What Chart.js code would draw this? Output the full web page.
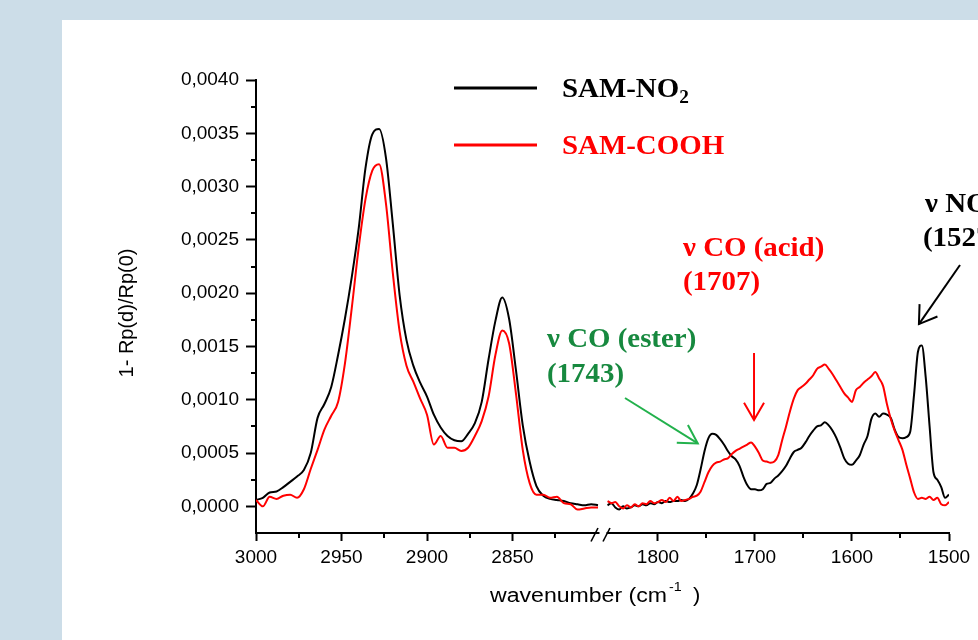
<!DOCTYPE html>
<html><head><meta charset="utf-8">
<script src="https://cdn.jsdelivr.net/npm/chart.js@4.4.0/dist/chart.umd.min.js"></script>
<style>
html,body{margin:0;padding:0;width:978px;height:640px;overflow:hidden;background:#ccdde8;}
#panel{position:absolute;left:62px;top:20px;right:0;bottom:0;background:#fff;}
#c{position:absolute;left:0;top:0;}
</style></head><body>
<div id="panel"></div>
<canvas id="c" width="978" height="640"></canvas>
<script>
// ---------- data ----------
const seriesNames = ['SAM-NO₂', 'SAM-COOH'];

// high-wavenumber segment (C-H stretching region)
const wavenumbersHigh = [3000,2996,2992,2988,2984,2980,2976,2972,2968,2964,2960,2956,2952,2948,2944,2940,2936,2932,2928,2924,2920,2916,2912,2908,2904,2900,2896,2892,2888,2884,2880,2876,2872,2868,2864,2860,2856,2852,2848,2844,2840,2836,2832,2828,2824,2820,2816,2812,2808,2804,2800];
const no2High = [0.00006,0.00008,0.00013,0.00014,0.00018,0.00023,0.00028,0.00034,0.00050,0.00083,0.00096,0.00112,0.00142,0.00176,0.00215,0.00260,0.00317,0.00349,0.00354,0.00327,0.00265,0.00198,0.00156,0.00132,0.00116,0.00103,0.00086,0.00074,0.00066,0.00062,0.00061,0.00068,0.00078,0.00098,0.00138,0.00174,0.00196,0.00176,0.00128,0.00076,0.00042,0.00019,0.00010,0.00007,0.00006,0.00005,0.00003,0.00002,0.00001,0.00002,0.00001];
const coohHigh = [0.00006,0.00000,0.00009,0.00007,0.00010,0.00011,0.00008,0.00016,0.00035,0.00053,0.00072,0.00085,0.00098,0.00134,0.00186,0.00242,0.00288,0.00315,0.00321,0.00284,0.00219,0.00164,0.00132,0.00117,0.00101,0.00086,0.00058,0.00066,0.00055,0.00055,0.00052,0.00055,0.00066,0.00080,0.00103,0.00142,0.00165,0.00153,0.00106,0.00053,0.00022,0.00011,0.00011,0.00008,0.00009,0.00003,0.00002,-0.00003,-0.00002,-0.00001,-0.00001];

// low-wavenumber segment (carbonyl / nitro region)
const wavenumbersLow = [1852,1848,1844,1840,1836,1832,1828,1824,1820,1816,1812,1808,1804,1800,1796,1792,1788,1784,1780,1776,1772,1768,1764,1760,1756,1752,1748,1744,1740,1736,1732,1728,1724,1720,1716,1712,1708,1704,1700,1696,1692,1688,1684,1680,1676,1672,1668,1664,1660,1656,1652,1648,1644,1640,1636,1632,1628,1624,1620,1616,1612,1608,1604,1600,1596,1592,1588,1584,1580,1576,1572,1568,1564,1560,1556,1552,1548,1544,1540,1536,1532,1528,1524,1520,1516,1512,1508,1504,1500];
const no2Low = [0.00001,0.00003,-0.00001,-0.00003,0.00000,-0.00002,-0.00001,0.00001,0.00000,0.00002,0.00001,0.00003,0.00002,0.00004,0.00003,0.00005,0.00004,0.00005,0.00005,0.00006,0.00005,0.00007,0.00012,0.00020,0.00035,0.00052,0.00064,0.00068,0.00067,0.00063,0.00058,0.00052,0.00047,0.00044,0.00038,0.00028,0.00020,0.00016,0.00016,0.00015,0.00016,0.00021,0.00022,0.00026,0.00029,0.00033,0.00038,0.00045,0.00051,0.00053,0.00055,0.00060,0.00066,0.00071,0.00075,0.00076,0.00079,0.00076,0.00071,0.00064,0.00055,0.00045,0.00040,0.00039,0.00043,0.00048,0.00058,0.00066,0.00082,0.00087,0.00084,0.00087,0.00086,0.00083,0.00072,0.00065,0.00064,0.00065,0.00070,0.00105,0.00145,0.00151,0.00121,0.00075,0.00032,0.00025,0.00018,0.00008,0.00011];
const coohLow = [0.00005,0.00003,0.00004,0.00000,-0.00002,0.00001,-0.00001,0.00002,0.00000,0.00003,0.00002,0.00005,0.00003,0.00004,0.00006,0.00004,0.00008,0.00005,0.00009,0.00005,0.00006,0.00007,0.00009,0.00010,0.00014,0.00023,0.00032,0.00038,0.00041,0.00042,0.00044,0.00045,0.00049,0.00052,0.00054,0.00056,0.00058,0.00060,0.00056,0.00050,0.00043,0.00042,0.00041,0.00042,0.00048,0.00062,0.00075,0.00089,0.00101,0.00109,0.00112,0.00115,0.00119,0.00123,0.00129,0.00131,0.00133,0.00129,0.00124,0.00118,0.00112,0.00106,0.00102,0.00098,0.00109,0.00112,0.00116,0.00119,0.00122,0.00126,0.00120,0.00113,0.00096,0.00082,0.00071,0.00062,0.00053,0.00039,0.00026,0.00013,0.00007,0.00008,0.00007,0.00009,0.00006,0.00008,0.00002,0.00001,0.00004];

// axis ticks
const xMajorHigh = [3000, 2950, 2900, 2850];
const xMinorHigh = [2975, 2925, 2875, 2825];
const xMajorLow = [1800, 1700, 1600, 1500];
const xMinorLow = [1750, 1650, 1550];
const yMajor = [0, 0.0005, 0.0010, 0.0015, 0.0020, 0.0025, 0.0030, 0.0035, 0.0040];
const yMinor = [0.00025, 0.00075, 0.00125, 0.00175, 0.00225, 0.00275, 0.00325, 0.00375];

// ---------- chart ----------
Chart.defaults.font.family = "'Liberation Sans', Arial, sans-serif";
Chart.defaults.color = '#000';

function pts(ws, vs) { return ws.map((w, i) => ({ x: w, y: vs[i] })); }
function inList(v, list) { return list.some(t => Math.abs(t - v) < 1e-9); }

const tickFont = { family: "'Liberation Sans', Arial, sans-serif", size: 19 };

function xScale(min, max, weight, majors, minors) {
  return {
    type: 'linear', position: 'bottom', stack: 'xbreak', stackWeight: weight,
    reverse: true, min: min, max: max,
    afterBuildTicks: s => { s.ticks = majors.concat(minors).map(v => ({ value: v })); },
    afterFit: s => { s.height = 107; },
    grid: { display: true, drawOnChartArea: false, drawTicks: true, tickLength: 8, tickWidth: 2,
            tickColor: c => (c.tick && inList(c.tick.value, majors)) ? '#000' : 'rgba(0,0,0,0)' },
    border: { display: true, color: '#000', width: 2 },
    ticks: { autoSkip: false, maxRotation: 0, minRotation: 0, padding: 5, font: tickFont, color: '#000',
             callback: v => inList(v, majors) ? String(v) : '' }
  };
}

function minorTicksPlugin() {
  return {
    id: 'minorTicks',
    afterDraw(chart) {
      const ctx = chart.ctx;
      ctx.save();
      ctx.strokeStyle = '#000';
      ctx.lineWidth = 2;
      const y = chart.scales.y;
      yMinor.forEach(v => {
        const p = Math.round(y.getPixelForValue(v)) ;
        ctx.beginPath(); ctx.moveTo(y.right - 5, p); ctx.lineTo(y.right, p); ctx.stroke();
      });
      [['xL', xMinorHigh], ['xR', xMinorLow]].forEach(([id, list]) => {
        const s = chart.scales[id];
        list.forEach(v => {
          const p = Math.round(s.getPixelForValue(v));
          ctx.beginPath(); ctx.moveTo(p, s.top); ctx.lineTo(p, s.top + 5); ctx.stroke();
        });
      });
      ctx.restore();
    }
  };
}

function stext(ctx, str, x, y, font, color, sx) {
  ctx.save();
  ctx.font = font; ctx.fillStyle = color;
  ctx.textAlign = 'left'; ctx.textBaseline = 'alphabetic';
  ctx.translate(x, y); ctx.scale(sx || 1, 1);
  ctx.fillText(str, 0, 0);
  const w = ctx.measureText(str).width * (sx || 1);
  ctx.restore();
  return w;
}

function arrow(ctx, x1, y1, x2, y2, color, len, ang) {
  ctx.save();
  ctx.strokeStyle = color; ctx.lineWidth = 2; ctx.lineCap = 'butt';
  ctx.beginPath(); ctx.moveTo(x1, y1); ctx.lineTo(x2, y2); ctx.stroke();
  const a = Math.atan2(y1 - y2, x1 - x2);
  ctx.beginPath();
  ctx.moveTo(x2 + len * Math.cos(a + ang), y2 + len * Math.sin(a + ang));
  ctx.lineTo(x2, y2);
  ctx.lineTo(x2 + len * Math.cos(a - ang), y2 + len * Math.sin(a - ang));
  ctx.stroke();
  ctx.restore();
}

const annotationPlugin = {
  id: 'annotations',
  afterDraw(chart) {
    const ctx = chart.ctx;
    const xL = chart.scales.xL, xR = chart.scales.xR, y = chart.scales.y;
    const axisY = xL.top;
    const joint = xL.right;

    // axis break
    ctx.save();
    ctx.fillStyle = '#fff';
    ctx.fillRect(joint - 1.5, axisY - 3, 7, 6);
    ctx.strokeStyle = '#000'; ctx.lineWidth = 1.6;
    ctx.beginPath(); ctx.moveTo(joint - 10, axisY + 8.5); ctx.lineTo(joint - 3, axisY - 5); ctx.stroke();
    ctx.beginPath(); ctx.moveTo(joint + 2, axisY + 8.5); ctx.lineTo(joint + 9, axisY - 5); ctx.stroke();
    ctx.restore();

    const bold = "bold 27px 'Liberation Serif', 'Times New Roman', serif";
    const sub = "bold 18px 'Liberation Serif', 'Times New Roman', serif";
    const sx = 1.07;

    // legend
    ctx.save();
    ctx.lineWidth = 3;
    ctx.strokeStyle = '#000';
    ctx.beginPath(); ctx.moveTo(454, 88); ctx.lineTo(537, 88); ctx.stroke();
    ctx.strokeStyle = '#ff0000';
    ctx.beginPath(); ctx.moveTo(454, 145); ctx.lineTo(537, 145); ctx.stroke();
    ctx.restore();
    let w = stext(ctx, 'SAM-NO', 562, 97, bold, '#000', sx);
    stext(ctx, '2', 562 + w, 103, sub, '#000', sx);
    stext(ctx, seriesNames[1], 562, 154, bold, '#ff0000', sx);

    // annotations
    stext(ctx, 'ν CO (acid)', 683, 256, bold, '#ff0000', sx);
    stext(ctx, '(1707)', 683, 290, bold, '#ff0000', sx);
    stext(ctx, 'ν CO (ester)', 547, 347, bold, '#17893f', sx);
    stext(ctx, '(1743)', 547, 382, bold, '#17893f', sx);
    w = stext(ctx, 'ν NO', 925, 212, bold, '#000', sx);
    stext(ctx, '2', 925 + w, 218, sub, '#000', sx);
    stext(ctx, '(1527)', 923, 246, bold, '#000', sx);

    // arrows (tips anchored on the spectral features)
    const ra = xR.getPixelForValue(1701);
    arrow(ctx, ra, 353, ra, y.getPixelForValue(0.00081), '#ff0000', 20, Math.PI / 6);
    arrow(ctx, 625, 398, xR.getPixelForValue(1759), y.getPixelForValue(0.00059), '#22b14c', 21, Math.PI / 6);
    arrow(ctx, 960, 265, xR.getPixelForValue(1531), y.getPixelForValue(0.00171), '#000', 20, 33 * Math.PI / 180);

    // axis titles
    ctx.save();
    ctx.font = "20px 'Liberation Sans', Arial, sans-serif";
    ctx.fillStyle = '#000';
    ctx.translate(133, 313); ctx.rotate(-Math.PI / 2);
    ctx.textAlign = 'center'; ctx.textBaseline = 'alphabetic';
    ctx.fillText('1- Rp(d)/Rp(0)', 0, 0);
    ctx.restore();

    ctx.save();
    ctx.font = "20px 'Liberation Sans', Arial, sans-serif";
    const mainW = ctx.measureText('wavenumber (cm').width;
    ctx.restore();
    const tsx = (667 - 490) / mainW;
    stext(ctx, 'wavenumber (cm', 490, 602, "20px 'Liberation Sans', Arial, sans-serif", '#000', tsx);
    stext(ctx, '-1', 669, 591, "13px 'Liberation Sans', Arial, sans-serif", '#000', 1.1);
    stext(ctx, ')', 693, 602, "20px 'Liberation Sans', Arial, sans-serif", '#000', 1.1);
  }
};

new Chart(document.getElementById('c'), {
  type: 'line',
  data: {
    datasets: [
      { label: seriesNames[1], data: pts(wavenumbersHigh, coohHigh), xAxisID: 'xL', yAxisID: 'y', borderColor: '#ff0000' },
      { label: seriesNames[0], data: pts(wavenumbersHigh, no2High), xAxisID: 'xL', yAxisID: 'y', borderColor: '#000000' },
      { label: seriesNames[1], data: pts(wavenumbersLow, coohLow), xAxisID: 'xR', yAxisID: 'y', borderColor: '#ff0000' },
      { label: seriesNames[0], data: pts(wavenumbersLow, no2Low), xAxisID: 'xR', yAxisID: 'y', borderColor: '#000000' }
    ]
  },
  options: {
    responsive: false, animation: false, parsing: true,
    layout: { padding: { left: 0, top: 80, right: 29, bottom: 0 } },
    plugins: { legend: { display: false }, tooltip: { enabled: false } },
    elements: { point: { radius: 0 }, line: { borderWidth: 2, fill: false, cubicInterpolationMode: 'monotone' } },
    scales: {
      xL: xScale(2798.25, 3000, 345, xMajorHigh, xMinorHigh),
      xR: xScale(1500, 1858.76, 348, xMajorLow, xMinorLow),
      y: {
        type: 'linear', position: 'left', min: -0.00025, max: 0.004,
        afterBuildTicks: s => { s.ticks = yMajor.concat(yMinor).map(v => ({ value: v })); },
        afterFit: s => { s.width = 256; },
        grid: { display: true, drawOnChartArea: false, drawTicks: true, tickLength: 10, tickWidth: 2,
                tickColor: c => (c.tick && inList(c.tick.value, yMajor)) ? '#000' : 'rgba(0,0,0,0)' },
        border: { display: true, color: '#000', width: 2 },
        ticks: { autoSkip: false, padding: 7, font: tickFont, color: '#000',
                 callback: v => inList(v, yMajor) ? v.toFixed(4).replace('.', ',') : '' }
      }
    }
  },
  plugins: [minorTicksPlugin(), annotationPlugin]
});
</script>
</body></html>
